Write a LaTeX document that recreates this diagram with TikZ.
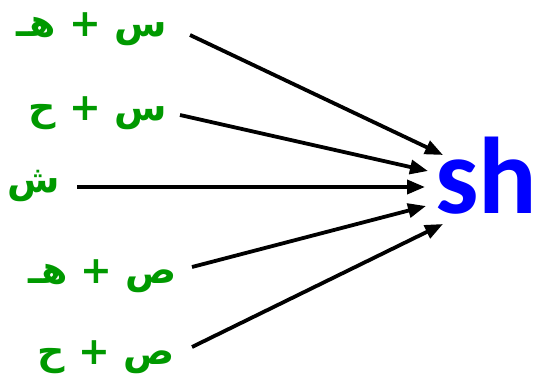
\documentclass[tikz,border=0pt]{standalone}
\usepackage{fontspec}
\usepackage{xcolor}
\usepackage{tikz}
\usetikzlibrary{arrows.meta}
\TeXXeTstate=1
\newfontfamily\arabicfont[Script=Arabic]{DejaVu Sans}
\newfontfamily\latinfont{Carlito}
\definecolor{greenx}{HTML}{009900}
\definecolor{bluex}{HTML}{0000FF}
\tikzset{
  ar/.style={-{Triangle[length=18pt,width=14pt]},line width=3.8pt,black},
  lbl/.style={font=\arabicfont\bfseries\fontsize{38}{42}\selectfont,text=greenx,inner sep=0pt,anchor=east}
}
\begin{document}
\begin{tikzpicture}[x=1pt,y=-1pt]
\useasboundingbox (0,0) rectangle (537,382);
% letters on the left
\node[lbl] (sh1) at (167,29) {\beginR س + هـ\endR};
\node[lbl] (sh2) at (167,113) {\beginR س +  ح\endR};
\node[lbl] (sh3) at (60,186) {\beginR ش\endR};
\node[lbl] (sh4) at (177,276) {\beginR ص + هـ\endR};
\node[lbl] (sh5) at (175,357) {\beginR ص +  ح\endR};
% target
\node[font=\latinfont\bfseries\fontsize{109}{114}\selectfont,text=bluex,inner sep=0pt,anchor=base west] (tgt) at (435,213) {sh};
\coordinate (e1) at (443,155);
\coordinate (e2) at (428,171);
\coordinate (e3) at (425,187);
\coordinate (e4) at (426,206);
\coordinate (e5) at (443,224);
\foreach \i/\dx/\dy in {1/23/6,2/13/2,3/17/1,4/15/-9,5/17/-10}
  \draw[ar] ([shift={(\dx,\dy)}]sh\i.east) -- (e\i);
\end{tikzpicture}
\end{document}
